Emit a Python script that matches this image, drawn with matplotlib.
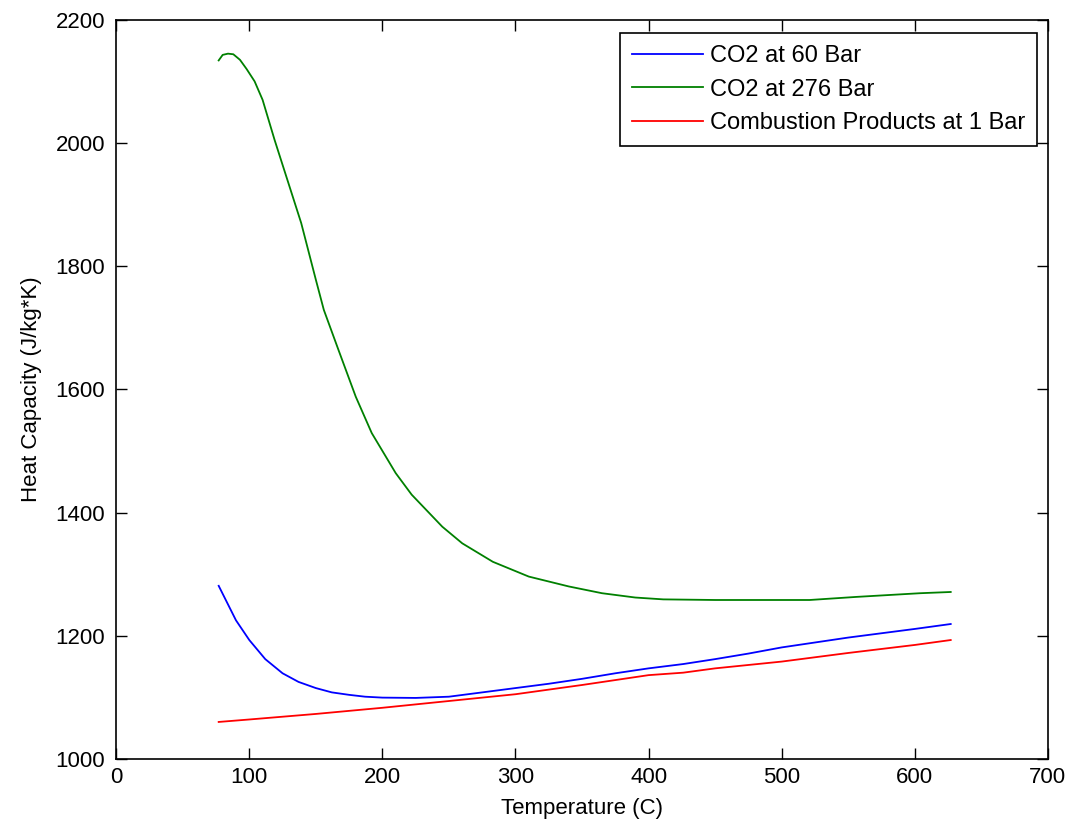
import numpy as np
import matplotlib.pyplot as plt

plt.rcParams['font.family'] = ['Liberation Sans', 'DejaVu Sans']

# temperatures (C) and heat capacity (J/kg*K)
t_co2_60 = [77, 90, 100, 112, 125, 137, 150, 162, 175, 187, 200, 225, 250, 275, 300, 325, 350, 375,
            400, 426, 450, 475, 500, 525, 550, 575, 600, 627]
cp_co2_60 = [1281, 1225, 1193, 1162, 1139, 1125, 1115, 1108, 1104, 1101, 1099.5, 1099, 1101, 1108, 1115,
             1122, 1130, 1139, 1147, 1154, 1162, 1171, 1181, 1189, 1197, 1204, 1211, 1219]

t_co2_276 = [77, 80, 84, 88, 93, 98, 104, 110, 119, 127, 139, 150, 156, 167, 180, 192, 210, 222, 245,
             260, 283, 310, 340, 365, 390, 411, 450, 500, 521, 556, 604, 627]
cp_co2_276 = [2134, 2143, 2145, 2144, 2135, 2120, 2100, 2070, 2005, 1951, 1870, 1778, 1729, 1664, 1588,
              1529, 1464, 1429, 1377, 1350, 1320, 1296, 1280, 1269, 1262, 1259, 1258, 1258, 1258, 1263,
              1269, 1271]

t_comb = [77, 100, 150, 200, 250, 300, 350, 400, 426, 450, 500, 550, 600, 627]
cp_comb = [1060, 1064, 1073, 1083, 1094, 1105, 1120, 1136, 1140, 1147, 1158, 1172, 1185, 1193]

fig = plt.figure(figsize=(10.66, 8.24), dpi=100)
ax = fig.add_axes([0.109, 0.079, 0.874, 0.897])

ax.plot(t_co2_60, cp_co2_60, color='#0000ff', lw=1.3, label='CO2 at 60 Bar')
ax.plot(t_co2_276, cp_co2_276, color='#008000', lw=1.3, label='CO2 at 276 Bar')
ax.plot(t_comb, cp_comb, color='#ff0000', lw=1.3, label='Combustion Products at 1 Bar')

ax.set_xlim(0, 700)
ax.set_ylim(1000, 2200)
ax.set_xticks(np.arange(0, 701, 100))
ax.set_yticks(np.arange(1000, 2201, 200))
ax.tick_params(axis='both', direction='in', length=8, width=1, top=True, right=True, labelsize=16)
ax.tick_params(axis='y', pad=8)
ax.tick_params(axis='x', pad=6)
for s in ax.spines.values():
    s.set_linewidth(1.2)

ax.set_xlabel('Temperature (C)', fontsize=16, labelpad=7)
ax.set_ylabel('Heat Capacity (J/kg*K)', fontsize=16, labelpad=10)

leg = ax.legend(loc='upper right', bbox_to_anchor=(0.988, 0.982), fontsize=17, fancybox=False,
                framealpha=1, edgecolor='black', borderaxespad=0, handlelength=3.0,
                handletextpad=0.3, labelspacing=0.5, borderpad=0.5)
leg.get_frame().set_linewidth(1.2)

plt.savefig('out.png')
